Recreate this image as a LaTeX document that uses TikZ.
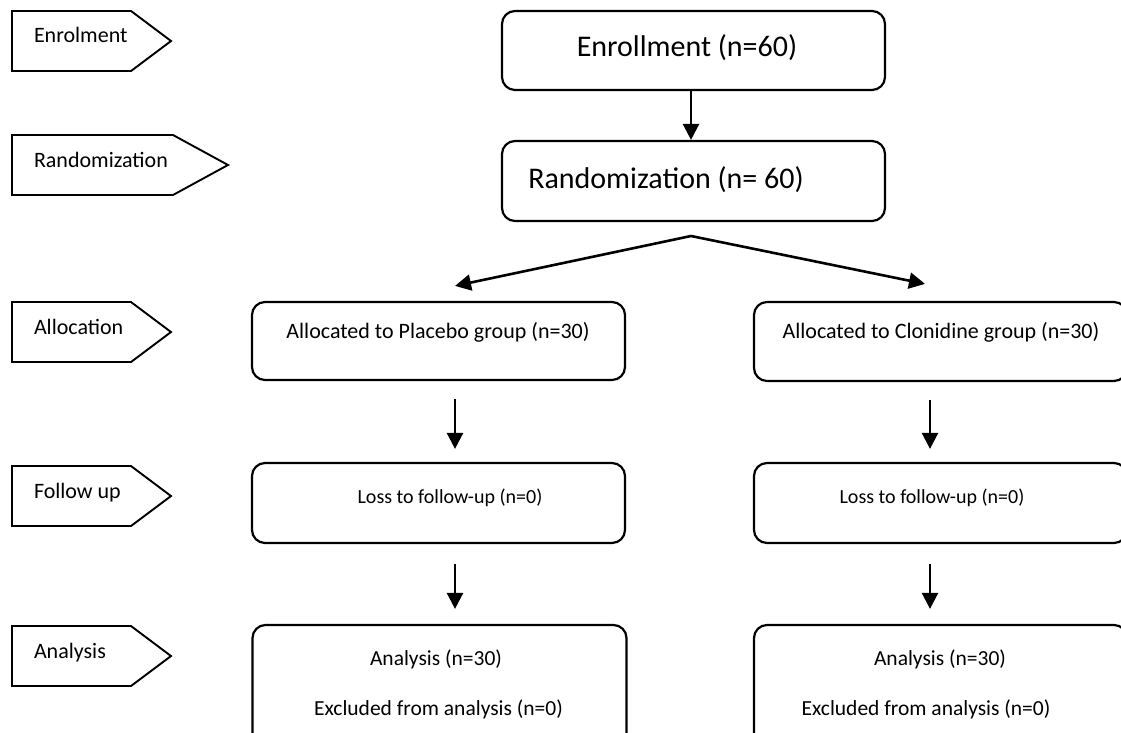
\documentclass[tikz,border=0pt]{standalone}
\usepackage{fontspec}
\setmainfont{Carlito}
\usetikzlibrary{arrows.meta}
\begin{document}
\begin{tikzpicture}[x=1pt,y=-1pt,
  line width=2pt,
  stage/.style={draw, line width=1.9pt, line join=miter},
  stagetext/.style={anchor=base west, inner sep=0pt, font=\fontsize{22}{26}\selectfont},
  box/.style={draw, rounded corners=13pt, inner sep=0pt, line width=2.2pt},
  bigtext/.style={anchor=base, inner sep=0pt, font=\fontsize{30}{36}\selectfont},
  midtext/.style={anchor=base, inner sep=0pt, font=\fontsize{22}{26}\selectfont},
  smalltext/.style={anchor=base, inner sep=0pt, font=\fontsize{20}{24}\selectfont},
  antext/.style={anchor=base, inner sep=0pt, font=\fontsize{21.5}{26}\selectfont},
  arr/.style={-{Triangle[length=16pt,width=16pt]}, line width=2.6pt}
]
\useasboundingbox (0,0) rectangle (1121,733);
\clip (0,0) rectangle (1121,733);

% stage pentagons
\draw[stage] (12,11) -- (131,11) -- (171,41) -- (131,71) -- (12,71) -- cycle;
\node[stagetext] (s1) at (33,43) {Enrolment};
\draw[stage] (12,135) -- (173,135) -- (228,165) -- (173,195) -- (12,195) -- cycle;
\node[stagetext] (s2) at (33,167) {Randomization};
\draw[stage] (12,302) -- (131,302) -- (171,332) -- (131,362) -- (12,362) -- cycle;
\node[stagetext] (s3) at (33,334) {Allocation};
\draw[stage] (12,466) -- (131,466) -- (171,496) -- (131,526) -- (12,526) -- cycle;
\node[stagetext] (s4) at (33,498) {Follow up};
\draw[stage] (12,626) -- (131,626) -- (171,656) -- (131,686) -- (12,686) -- cycle;
\node[stagetext] (s5) at (33,658) {Analysis};

% boxes
\node[box, minimum width=383pt, minimum height=79pt] (enr) at (693.5,50.5) {};
\node[bigtext] (enrt) at (687,57) {Enrollment (n=60)};
\node[box, minimum width=383pt, minimum height=80pt] (ran) at (693.5,181) {};
\node[bigtext] (rant) at (666,188) {Randomization (n= 60)};

\node[box, minimum width=373pt, minimum height=78pt] (pal) at (438.5,341) {};
\node[midtext] (palt) at (438,338) {Allocated to Placebo group (n=30)};
\node[box, minimum width=373pt, minimum height=79pt] (cal) at (940.5,341.5) {};
\node[midtext] (calt) at (941,338) {Allocated to Clonidine group (n=30)};

\node[box, minimum width=373pt, minimum height=80pt] (pfu) at (438.5,503) {};
\node[smalltext] (pfut) at (450,503) {Loss to follow-up (n=0)};
\node[box, minimum width=373pt, minimum height=80pt] (cfu) at (940.5,503) {};
\node[smalltext] (cfut) at (932,503) {Loss to follow-up (n=0)};

\node[box, minimum width=374pt, minimum height=140pt] (pan) at (439.5,695) {};
\node[antext] (pant1) at (436,665) {Analysis (n=30)};
\node[antext] (pant2) at (438.5,715) {Excluded from analysis (n=0)};
\node[box, minimum width=373pt, minimum height=140pt] (can) at (940.5,695) {};
\node[antext] (cant1) at (940,665) {Analysis (n=30)};
\node[antext] (cant2) at (926,715) {Excluded from analysis (n=0)};

% connectors
\draw[arr] ([xshift=-2.5pt]enr.south) -- ([xshift=-2.5pt]ran.north);
\coordinate (split) at (691,236);
\draw[arr] (split) -- ([xshift=16.5pt,yshift=15pt]pal.north);
\draw[arr] (split) -- ([xshift=-15.5pt,yshift=17pt]cal.north);
\draw[arr] ([xshift=16.5pt,yshift=-18pt]pal.south) -- ([xshift=16.5pt,yshift=13pt]pfu.north);
\draw[arr] ([xshift=-10.5pt,yshift=-18pt]cal.south) -- ([xshift=-10.5pt,yshift=13pt]cfu.north);
\draw[arr] ([xshift=16.5pt,yshift=-20pt]pfu.south) -- ([xshift=15.5pt,yshift=15pt]pan.north);
\draw[arr] ([xshift=-10.5pt,yshift=-20pt]cfu.south) -- ([xshift=-10.5pt,yshift=15pt]can.north);
\end{tikzpicture}
\end{document}
